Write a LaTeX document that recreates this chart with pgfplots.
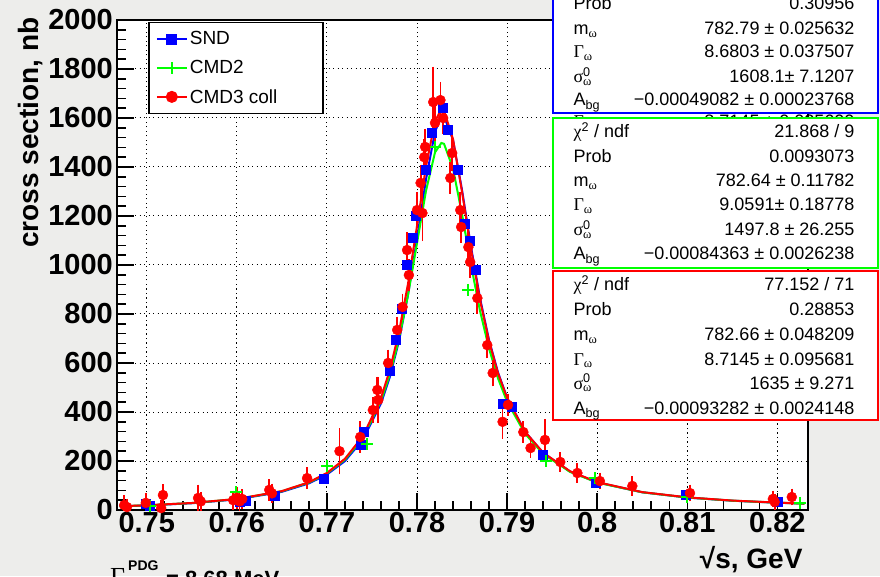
\documentclass[border=0pt]{standalone}
\usepackage{fontspec}
\setmainfont{Liberation Sans}
\newfontfamily\gr{Liberation Serif}
\usepackage{pgfplots}
\usepackage{pgfplotstable}
\pgfplotsset{compat=1.18}

\definecolor{bggray}{RGB}{237,237,235}
\newcommand\fs[1]{\fontsize{#1}{#1}\selectfont}

% fit curves: sqrt(s) [GeV], CMD3, SND, CMD2 [nb]
\pgfplotstableread{
E R B G
0.747 15.4 15.0 15.3
0.750 19.3 18.6 19.1
0.755 28.6 27.6 28.4
0.760 45.1 43.5 44.6
0.765 77.2 74.3 76.4
0.768 113.2 108.7 111.8
0.770 151.2 144.8 149.0
0.772 209.0 199.7 205.5
0.774 301.4 287.5 295.2
0.776 457.2 434.8 444.4
0.777 573.6 545.0 554.5
0.778 726.8 690.3 697.4
0.779 923.3 877.8 877.5
0.780 1158.8 1106.2 1089.1
0.781 1403.4 1349.8 1303.2
0.782 1587.3 1544.3 1459.9
0.7827 1635 1606 1498
0.783 1630 1607.6 1494.5
0.784 1513 1510.2 1393.3
0.785 1298 1305.3 1206.5
0.786 1064 1072.9 999.2
0.787 856 863.4 811.8
0.788 688 693.1 657.9
0.789 557 560.5 536.5
0.790 457 458.6 442.0
0.792 319 319.2 311.0
0.794 234 233.2 229.0
0.797 158 156.8 155.1
0.800 114 112.7 112.1
0.805 73 72.3 72.3
0.810 51.6 50.8 50.9
0.815 38.5 37.9 38.1
0.820 30.2 29.6 29.8
0.823 26.4 26.0 26.2
}\fits

% SND
\pgfplotstableread{
E S
0.7499 25
0.7503 18
0.7603 35
0.7610 40
0.7642 60
0.7696 126
0.7737 265
0.7741 320
0.7770 570
0.7776 694
0.7783 820
0.7789 1000
0.7795 1110
0.7799 1200
0.7810 1390
0.7816 1540
0.7829 1640
0.7834 1551
0.7845 1388
0.7853 1170
0.7859 1100
0.7865 980
0.7895 433
0.7905 420
0.7939 224
0.7998 110
0.8098 61
0.8200 33
}\snd

% CMD2
\pgfplotstableread{
E S
0.7504 15
0.7599 73
0.7700 180
0.7745 270
0.7820 1480
0.7857 898
0.7943 200
0.7998 130
0.8100 55
0.8225 29
}\cmdtwo

% CMD3 coll
\pgfplotstableread{
E S err
0.7475 20 25
0.7478 12 20
0.7499 29 25
0.7516 8 20
0.7518 61 30
0.7557 49 40
0.7560 35 25
0.7596 40 25
0.7600 50 30
0.7603 35 25
0.7606 45 25
0.7636 82 30
0.7639 68 25
0.7678 130 30
0.7714 240 80
0.7737 298 50
0.7751 408 40
0.7756 490 40
0.7757 449 80
0.7768 600 40
0.7778 735 40
0.7784 829 40
0.7789 1061 60
0.7791 959 50
0.7800 1224 60
0.7804 1335 60
0.7806 1212 100
0.7808 1440 60
0.7809 1482 60
0.7818 1665 130
0.7820 1580 60
0.7826 1673 60
0.7829 1600 50
0.7837 1355 50
0.7839 1457 60
0.7848 1224 60
0.7849 1155 50
0.7857 1073 50
0.7859 1012 50
0.7867 865 50
0.7878 673 40
0.7884 559 40
0.7895 360 55
0.7901 429 30
0.7918 318 30
0.7926 253 25
0.7942 286 70
0.7959 196 25
0.7978 151 25
0.8003 118 20
0.8039 98 25
0.8103 69 20
0.8195 45 20
0.8197 33 20
0.8216 53 20
}\cmdthree

\begin{document}
\begin{tikzpicture}
\fill[bggray] (0pt,0pt) rectangle (880pt,576pt);

\begin{axis}[
  at={(117pt,66pt)}, anchor=south west,
  scale only axis, width=691pt, height=490pt,
  xmin=0.7467, xmax=0.8234, ymin=0, ymax=2000,
  axis background/.style={fill=white},
  xtick={0.75,0.76,0.77,0.78,0.79,0.80,0.81,0.82},
  xticklabels={0.75,0.76,0.77,0.78,0.79,0.8,0.81,0.82},
  ytick={0,200,400,600,800,1000,1200,1400,1600,1800,2000},
  yticklabels={0,200,400,600,800,1000,1200,1400,1600,1800,2000},
  minor x tick num=4, minor y tick num=4,
  xtick pos=bottom, ytick pos=left,
  tick align=inside,
  major tick length=17pt, minor tick length=9pt,
  every tick/.style={black, line width=1.5pt},
  grid=major,
  major grid style={black, line width=1pt, dash pattern=on 1.2pt off 3.3pt},
  axis line style={line width=1.6pt},
  tick label style={font=\fs{29}\bfseries},
  xticklabel style={inner sep=2pt},
  yticklabel style={inner sep=4pt},
  legend style={at={(0.045,0.996)}, anchor=north west, draw=black,
    line width=1.5pt, fill=white, font=\fs{19},
    inner xsep=7pt, inner ysep=7pt, row sep=10pt,
    cells={anchor=west}},
  legend image code/.code={\draw[mark repeat=2,mark phase=2,#1]
    plot coordinates {(0pt,0pt) (15pt,0pt) (30pt,0pt)};},
]
\addlegendimage{blue, line width=2pt, mark=square*, mark size=4.5pt}
\addlegendentry{\makebox[124pt][l]{SND}}
\addlegendimage{green, line width=2pt, mark=+, mark size=6pt}
\addlegendentry{\makebox[124pt][l]{CMD2}}
\addlegendimage{red, line width=2pt, mark=*, mark size=5pt}
\addlegendentry{\makebox[124pt][l]{CMD3 coll}}

\addplot[forget plot, only marks, blue, mark=square*, mark size=4.5pt]
  table[x=E, y=S] {\snd};
\addplot[forget plot, blue, line width=2pt] table[x=E, y=B] {\fits};

\addplot[forget plot, only marks, green, mark=+, mark size=6pt, line width=2pt]
  table[x=E, y=S] {\cmdtwo};
\addplot[forget plot, green, line width=2pt] table[x=E, y=G] {\fits};

\addplot[forget plot, only marks, red, mark=*, mark size=5pt,
  error bars/.cd, y dir=both, y explicit, error mark=-,
  error bar style={line width=1.8pt, red},
  error mark options={red, mark size=3.5pt, line width=1.8pt}]
  table[x=E, y=S, y error=err] {\cmdthree};
\addplot[forget plot, red, line width=2pt] table[x=E, y=R] {\fits};
\end{axis}

% axis titles
\node[rotate=90, anchor=base east, font=\fs{28}\bfseries] at (38pt,562pt) {cross section, nb};
\node[anchor=base east, font=\fs{28}\bfseries] at (806pt,8pt) {√s, GeV};

% partly hidden text at the bottom
\node[anchor=base west, font=\fs{26}, inner sep=0pt] at (110pt,-9pt) {\gr Γ};
\node[anchor=base west, font=\fs{14}\bfseries, inner sep=0pt] at (128pt,6pt) {PDG};
\node[anchor=base west, font=\fs{22}\bfseries, inner sep=0pt] at (166pt,-10pt) {= 8.68 MeV};

% stat boxes
\begin{scope}[font=\fs{18}]
\node[anchor=base east] at (858pt,448pt) {8.7145 ± 0.085600};
\node[anchor=base west] at (570pt,448pt) {{\gr Γ}\textsubscript{\gr ω}};

\draw[line width=2pt, draw=blue, fill=white] (553pt,463pt) rectangle (878pt,600pt);
\node[anchor=base west] at (570pt,591pt) {{\gr χ}\textsuperscript{2} / ndf};
\node[anchor=base west] at (570pt,566pt) {Prob};
\node[anchor=base east] at (858pt,566pt) {0.30956};
\node[anchor=base west] at (570pt,541pt) {m\textsubscript{\gr ω}};
\node[anchor=base east] at (858pt,541pt) {782.79 ± 0.025632};
\node[anchor=base west] at (570pt,518pt) {{\gr Γ}\textsubscript{\gr ω}};
\node[anchor=base east] at (858pt,518pt) {8.6803 ± 0.037507};
\node[anchor=base west] at (570pt,493pt) {{\gr σ}\rlap{\textsuperscript{0}}\textsubscript{\gr ω}};
\node[anchor=base east] at (858pt,493pt) {1608.1± 7.1207};
\node[anchor=base west] at (570pt,470pt) {A\textsubscript{bg}};
\node[anchor=base east] at (858pt,470pt) {−0.00049082 ± 0.00023768};

\draw[line width=2pt, draw=green, fill=white] (553pt,308pt) rectangle (878pt,458pt);
\node[anchor=base west] at (570pt,438pt) {{\gr χ}\textsuperscript{2} / ndf};
\node[anchor=base east] at (858pt,438pt) {21.868 / 9};
\node[anchor=base west] at (570pt,413pt) {Prob};
\node[anchor=base east] at (858pt,413pt) {0.0093073};
\node[anchor=base west] at (570pt,389pt) {m\textsubscript{\gr ω}};
\node[anchor=base east] at (858pt,389pt) {782.64 ± 0.11782};
\node[anchor=base west] at (570pt,365pt) {{\gr Γ}\textsubscript{\gr ω}};
\node[anchor=base east] at (858pt,365pt) {9.0591± 0.18778};
\node[anchor=base west] at (570pt,340pt) {{\gr σ}\rlap{\textsuperscript{0}}\textsubscript{\gr ω}};
\node[anchor=base east] at (858pt,340pt) {1497.8 ± 26.255};
\node[anchor=base west] at (570pt,316pt) {A\textsubscript{bg}};
\node[anchor=base east] at (858pt,316pt) {−0.00084363 ± 0.0026238};

\draw[line width=2pt, draw=red, fill=white] (553pt,156pt) rectangle (878pt,305pt);
\node[anchor=base west] at (570pt,285pt) {{\gr χ}\textsuperscript{2} / ndf};
\node[anchor=base east] at (858pt,285pt) {77.152 / 71};
\node[anchor=base west] at (570pt,260pt) {Prob};
\node[anchor=base east] at (858pt,260pt) {0.28853};
\node[anchor=base west] at (570pt,235pt) {m\textsubscript{\gr ω}};
\node[anchor=base east] at (858pt,235pt) {782.66 ± 0.048209};
\node[anchor=base west] at (570pt,211pt) {{\gr Γ}\textsubscript{\gr ω}};
\node[anchor=base east] at (858pt,211pt) {8.7145 ± 0.095681};
\node[anchor=base west] at (570pt,187pt) {{\gr σ}\rlap{\textsuperscript{0}}\textsubscript{\gr ω}};
\node[anchor=base east] at (858pt,187pt) {1635 ± 9.271};
\node[anchor=base west] at (570pt,162pt) {A\textsubscript{bg}};
\node[anchor=base east] at (858pt,162pt) {−0.00093282 ± 0.0024148};
\end{scope}

\pgfresetboundingbox
\useasboundingbox (0pt,0pt) rectangle (880pt,576pt);
\end{tikzpicture}
\end{document}
